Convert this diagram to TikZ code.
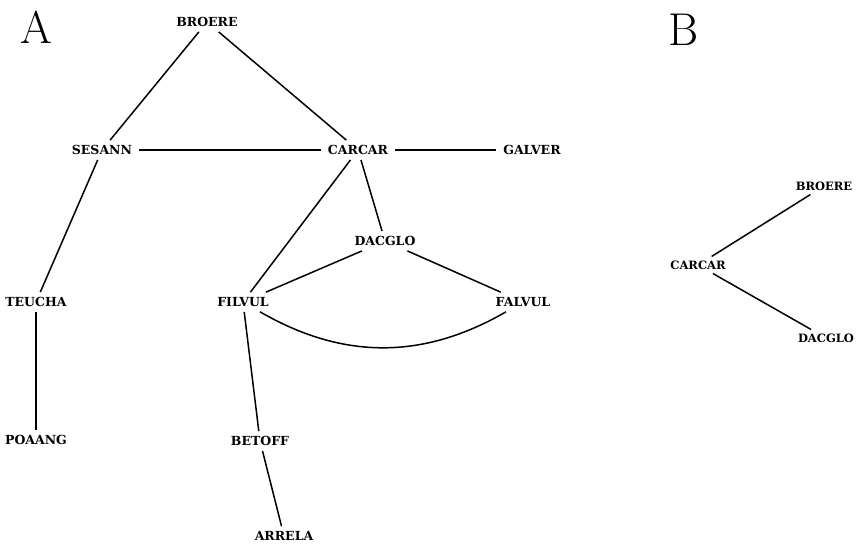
\documentclass[tikz,border=0pt]{standalone}
\usepackage{amsmath}
\usepackage{amssymb}
\usepackage{fontspec}
\usepackage{tikz}
\newfontfamily\taxfont{DejaVu Serif}

\begin{document}
\begin{tikzpicture}[x=1pt,y=1pt,yscale=-1,
  taxon/.style={inner xsep=7pt,inner ysep=5pt,font=\taxfont\fontsize{12.5}{14}\selectfont\bfseries},
  taxonb/.style={inner xsep=4pt,inner ysep=4pt,font=\taxfont\fontsize{11.5}{13}\selectfont\bfseries},
  panel/.style={inner sep=0pt,font=\fontsize{46}{50}\selectfont},
  link/.style={line width=1.5pt}]
\useasboundingbox (0,0) rectangle (857,544);

% Panel labels
\node [panel] (lblA) at (36,27) {A};
\node [panel] (lblB) at (684,30) {B};

% Text Nodes, panel A
\node [taxon] (broere) at (207,22) {BROERE};
\node [taxon] (sesann) at (102,150) {SESANN};
\node [taxon] (carcar) at (358,150) {CARCAR};
\node [taxon] (galver) at (532,150) {GALVER};
\node [taxon] (dacglo) at (385,241) {DACGLO};
\node [taxon] (teucha) at (36,302) {TEUCHA};
\node [taxon] (filvul) at (243,302) {FILVUL};
\node [taxon] (falvul) at (523,302) {FALVUL};
\node [taxon] (poaang) at (36,440) {POAANG};
\node [taxon] (betoff) at (260,441) {BETOFF};
\node [taxon] (arrela) at (284,536) {ARRELA};

% Text Nodes, panel B
\node [taxonb] (broereB) at (824,186) {BROERE};
\node [taxonb] (carcarB) at (698,265) {CARCAR};
\node [taxonb] (dacgloB) at (826,338) {DACGLO};

%Straight Lines
\draw [link] (broere) -- (sesann);
\draw [link] (broere) -- (carcar);
\draw [link] (sesann) -- (carcar);
\draw [link] (carcar) -- (galver);
\draw [link] (carcar) -- (filvul);
\draw [link] (carcar) -- (dacglo);
\draw [link] (sesann) -- (teucha);
\draw [link] (teucha) -- (poaang);
\draw [link] (dacglo) -- (filvul);
\draw [link] (dacglo) -- (falvul);
\draw [link] (filvul) -- (betoff);
\draw [link] (betoff) -- (arrela);
%Shape: Arc
\draw [link] (filvul) to[bend left=30] (falvul);

%Straight Lines, panel B
\draw [link] (carcarB) -- (broereB);
\draw [link] (carcarB) -- (dacgloB);

\end{tikzpicture}
\end{document}
